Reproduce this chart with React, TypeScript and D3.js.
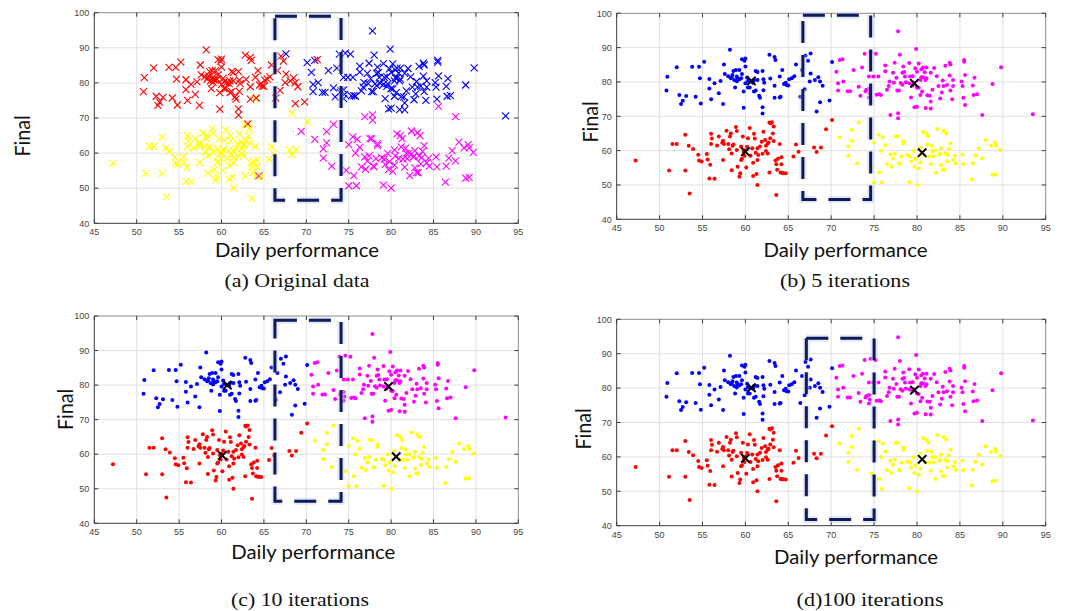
import React from 'react';
import * as d3 from 'd3';

// ---------- data ----------
const xTicks = [45, 50, 55, 60, 65, 70, 75, 80, 85, 90, 95];
const yTicks = [40, 50, 60, 70, 80, 90, 100];
const xLabel = 'Daily performance';
const yLabel = 'Final';
const captions = ['(a) Original data', '(b) 5 iterations', '(c) 10 iterations', '(d)100 iterations'];

// k-means cluster: top-left (drawn blue after clustering)
const clusterTL: [number, number][] = [
  [50.8, 77.5], [50.9, 81.5], [52.0, 84.3], [52.3, 76.2], [52.5, 73.6], [52.7, 74.5], [53.1, 75.9], [53.8, 84.4],
  [54.2, 75.7], [54.6, 84.4], [54.7, 81.1], [54.8, 73.7], [55.2, 85.9], [55.8, 80.9], [55.8, 78.1], [56.0, 75.0],
  [56.4, 79.6], [56.9, 76.7], [57.1, 80.3], [57.4, 73.6], [57.5, 85.1], [57.6, 82.3], [58.2, 89.4], [58.0, 81.7],
  [58.3, 81.1], [58.4, 81.4], [58.5, 82.0], [58.6, 83.2], [58.7, 80.6], [58.8, 78.4], [58.9, 83.5], [59.0, 81.6],
  [59.0, 80.2], [59.1, 80.9], [59.3, 83.5], [59.3, 80.8], [59.5, 81.1], [59.6, 82.3], [59.6, 86.6], [59.8, 77.2],
  [59.8, 72.5], [59.9, 86.2], [60.0, 86.8], [60.0, 84.5], [60.0, 79.6], [60.2, 81.3], [60.3, 80.3], [60.3, 78.4],
  [60.5, 78.4], [60.6, 80.1], [60.9, 79.8], [61.0, 77.2], [61.0, 80.6], [61.2, 83.2], [61.2, 77.5], [61.4, 82.9],
  [61.4, 80.6], [61.6, 76.0], [61.7, 75.4], [62.0, 83.2], [62.0, 72.6], [62.0, 70.8], [62.1, 80.8], [62.1, 77.6],
  [62.2, 79.8], [62.8, 87.9], [62.9, 81.0], [63.4, 87.3], [63.5, 86.4], [63.4, 78.9], [63.4, 75.4], [64.0, 75.5],
  [64.0, 81.6], [64.1, 75.7], [64.3, 83.5], [64.5, 79.4], [64.7, 79.8], [64.8, 79.1], [65.0, 79.0], [65.1, 80.8],
  [65.4, 81.1], [65.7, 81.7], [65.9, 85.1], [66.4, 75.7], [66.6, 83.5], [66.9, 77.9], [67.0, 87.6], [67.3, 86.2],
  [67.6, 88.3], [67.5, 80.1], [67.6, 82.5], [68.1, 80.6], [68.3, 71.4], [68.5, 81.4], [68.7, 74.1], [68.7, 80.1],
  [69.0, 78.9], [69.8, 74.6], [70.1, 85.8],
];

// k-means cluster: top-right (drawn magenta after clustering)
const clusterTR: [number, number][] = [
  [70.6, 83.0], [70.8, 79.6], [70.8, 77.5], [71.0, 86.4], [71.3, 86.6], [71.4, 80.1], [71.9, 77.3], [72.2, 77.3],
  [72.6, 83.5], [73.2, 78.6], [73.4, 76.0], [73.6, 84.2], [73.9, 88.2], [74.0, 77.3], [74.1, 77.7], [74.4, 81.6],
  [74.4, 75.5], [74.4, 78.0], [74.5, 76.7], [74.6, 88.5], [74.9, 81.6], [75.3, 76.3], [75.5, 81.6], [75.6, 76.4],
  [75.2, 88.2], [75.8, 76.2], [76.3, 84.8], [76.3, 83.1], [76.5, 77.7], [76.7, 78.8], [76.8, 80.1], [76.9, 70.4],
  [77.2, 82.7], [77.3, 79.8], [77.4, 85.6], [77.6, 81.2], [77.7, 77.5], [77.8, 69.4], [77.8, 70.9], [77.8, 94.8],
  [77.9, 77.5], [78.0, 87.9], [78.1, 79.7], [78.3, 79.2], [78.4, 84.5], [78.3, 82.7], [78.5, 82.9], [78.6, 81.6],
  [78.7, 79.9], [79.1, 85.5], [79.2, 81.6], [79.1, 79.6], [79.3, 75.5], [79.5, 81.7], [79.5, 79.0], [79.6, 79.7],
  [79.7, 72.6], [79.8, 84.0], [79.9, 89.6], [80.0, 78.4], [80.0, 72.8], [80.0, 83.0], [80.2, 78.3], [80.2, 85.4],
  [80.4, 80.6], [80.4, 76.2], [80.5, 83.7], [80.5, 81.4], [80.6, 77.2], [80.7, 84.2], [80.7, 81.4], [80.9, 82.8],
  [81.0, 72.4], [81.0, 80.6], [81.1, 81.1], [81.1, 84.2], [81.2, 76.1], [81.5, 76.0], [81.6, 72.3], [81.6, 82.7],
  [81.6, 74.3], [81.8, 77.7], [82.0, 84.1], [82.3, 81.7], [82.5, 78.8], [82.7, 75.2], [82.9, 76.9], [83.0, 80.4],
  [83.1, 78.8], [83.3, 84.7], [83.5, 79.1], [83.8, 81.9], [83.8, 85.6], [83.9, 85.1], [83.9, 77.5], [84.1, 75.0],
  [84.2, 80.6], [84.2, 78.8], [85.2, 80.1], [85.3, 78.8], [85.4, 75.4], [85.5, 86.4], [85.5, 85.9], [85.6, 73.3],
  [85.6, 82.0], [86.5, 79.0], [86.6, 76.2], [86.7, 81.2], [87.0, 76.4], [87.6, 70.4], [88.8, 79.4], [89.8, 84.3],
  [93.5, 70.6],
];

// k-means cluster: bottom-left (drawn red after clustering)
const clusterBL: [number, number][] = [
  [47.2, 57.1], [51.1, 54.2], [51.5, 61.9], [52.0, 61.9], [53.0, 64.6], [53.0, 54.2], [53.4, 61.4], [53.5, 47.5],
  [53.9, 60.5], [54.5, 58.8], [54.6, 57.1], [54.9, 56.8], [55.5, 59.0], [55.6, 57.4], [55.8, 51.9], [55.9, 55.9],
  [56.0, 64.9], [56.1, 63.5], [56.0, 61.9], [56.4, 51.8], [56.7, 61.5], [56.9, 64.1], [57.3, 62.3], [57.4, 57.3],
  [57.4, 62.9], [57.5, 61.9], [57.8, 65.8], [58.0, 61.9], [58.1, 60.4], [58.2, 64.1], [58.3, 65.0], [58.4, 59.2],
  [58.4, 54.3], [58.5, 61.4], [58.6, 61.8], [58.9, 66.9], [59.0, 65.7], [59.0, 60.2], [59.1, 55.3], [59.3, 52.4],
  [59.4, 53.4], [59.5, 61.2], [59.5, 57.3], [59.6, 57.6], [59.7, 64.1], [59.8, 59.7], [59.9, 58.5], [60.0, 60.1],
  [60.1, 55.1], [60.2, 61.1], [60.3, 63.6], [60.5, 66.6], [60.6, 58.5], [60.8, 60.7], [60.9, 56.5], [60.9, 52.6],
  [61.0, 64.9], [61.1, 63.5], [61.2, 59.4], [61.3, 53.2], [61.4, 50.0], [61.4, 57.3], [61.4, 60.7], [61.5, 58.7],
  [61.7, 61.2], [61.9, 62.6], [62.0, 59.1], [62.1, 65.5], [62.3, 63.1], [62.4, 59.9], [62.4, 61.4], [62.6, 62.1],
  [62.6, 59.2], [62.7, 62.4], [62.8, 68.2], [62.8, 53.6], [62.9, 63.6], [62.9, 68.0], [63.1, 68.3], [63.2, 65.0],
  [63.3, 67.0], [63.3, 62.8], [63.5, 57.1], [63.6, 47.1], [63.6, 56.0], [63.7, 54.4], [63.8, 57.6], [64.0, 61.9],
  [64.1, 53.6], [64.2, 58.1], [64.2, 56.0], [64.3, 53.5], [64.4, 53.5], [64.7, 53.4], [65.6, 58.3], [65.9, 61.8],
  [66.2, 59.7], [68.0, 60.9], [68.3, 59.6], [68.8, 60.9], [69.4, 66.2], [70.1, 68.9],
];

// k-means cluster: bottom-right (drawn yellow after clustering)
const clusterBR: [number, number][] = [
  [71.0, 63.9], [72.0, 61.2], [72.0, 58.6], [72.4, 62.9], [72.4, 66.1], [73.0, 56.3], [73.2, 68.2], [74.7, 55.1],
  [75.0, 62.4], [75.0, 50.7], [75.5, 64.6], [75.6, 53.6], [75.8, 60.0], [75.9, 50.7], [76.0, 63.9], [76.3, 61.6],
  [76.5, 56.1], [76.9, 58.9], [77.0, 55.4], [77.2, 57.7], [77.4, 59.2], [77.5, 64.1], [77.7, 64.1], [77.9, 56.3],
  [78.0, 56.1], [78.2, 58.4], [78.4, 62.1], [78.4, 62.7], [78.9, 58.7], [79.1, 50.9], [79.2, 58.3], [79.3, 56.8],
  [79.6, 59.9], [79.7, 55.3], [79.8, 57.6], [80.0, 50.0], [80.2, 54.8], [80.4, 60.9], [80.4, 56.6], [80.5, 59.2],
  [80.7, 65.5], [80.9, 58.5], [81.1, 65.0], [81.2, 61.8], [81.3, 64.1], [81.4, 58.3], [81.6, 56.0], [81.7, 61.4],
  [81.8, 59.9], [81.9, 58.4], [82.1, 60.0], [82.2, 53.6], [82.4, 66.3], [82.6, 58.9], [82.7, 59.1], [82.8, 55.8],
  [82.8, 60.7], [83.0, 54.5], [83.1, 65.8], [83.2, 54.4], [83.3, 59.2], [83.4, 65.0], [83.5, 56.9], [83.6, 58.7],
  [83.7, 60.5], [83.9, 62.1], [84.2, 57.3], [84.4, 58.5], [84.5, 56.3], [85.3, 58.9], [85.4, 56.1], [86.4, 51.7],
  [86.5, 56.3], [86.8, 58.6], [87.2, 60.7], [87.6, 57.8], [88.0, 63.1], [88.6, 61.5], [88.8, 52.9], [89.1, 62.4],
  [89.2, 61.5], [89.2, 53.1], [89.7, 60.2],
];

// original (true) class of each k-means cluster, and points whose true class differs
const originalClassOf = { TL: 'red', TR: 'blue', BL: 'yellow', BR: 'magenta' };
const kmeansClassOf = { TL: 'blue', TR: 'magenta', BL: 'red', BR: 'yellow' };
const originalOverrides: [number, number, string][] = [
  [67.6, 88.3, 'blue'], [70.1, 85.8, 'blue'], [71.3, 86.6, 'red'], [64.0, 75.5, 'yellow'],
  [68.3, 71.4, 'yellow'], [63.1, 68.3, 'red'], [64.4, 53.5, 'magenta'], [69.4, 66.2, 'magenta'],
  [76.9, 70.4, 'magenta'], [77.8, 70.9, 'magenta'], [77.8, 69.4, 'magenta'], [87.6, 70.4, 'magenta'],
  [85.6, 73.3, 'magenta'],
];

// centroids per panel (b, c, d)
const centroidsB: [number, number][] = [[60.7, 80.3], [79.7, 79.6], [60.0, 59.7], [80.6, 59.4]];
const centroidsC: [number, number][] = [[60.7, 80.0], [79.7, 79.6], [60.1, 59.6], [80.6, 59.3]];
const centroidsD: [number, number][] = [[60.7, 80.1], [79.7, 79.4], [60.0, 59.6], [80.6, 59.3]];

// dashed region per panel: [x0, x1, y0, y1]
const regionA = [66.3, 74.1, 46.6, 99.0];
const regionB = [66.7, 74.6, 45.8, 99.4];
const regionC = [66.3, 74.1, 46.4, 98.8];
const regionD = [67.1, 75.0, 41.8, 94.5];

// ---------- styling ----------
const COLORS: Record<string, string> = {
  red: '#ff0000', blue: '#0000ff', yellow: '#ffff00', magenta: '#ff00ff',
};

type Layout = {
  l: number; r: number; t: number; b: number;
  finalX: number; finalY: number;
  xlabX: number; xlabY: number;
  capX: number; capY: number; capW: number;
};

const layouts: Layout[] = [
  { l: 94.3, r: 518.3, t: 12.7, b: 223.3, finalX: 30, finalY: 136, xlabX: 297, xlabY: 256.5, capX: 297, capY: 287, capW: 145 },
  { l: 616.7, r: 1045.7, t: 13.3, b: 219.3, finalX: 598, finalY: 122, xlabX: 845.5, xlabY: 256.5, capX: 845, capY: 287, capW: 130 },
  { l: 94.3, r: 518.3, t: 316, b: 523.3, finalX: 73, finalY: 409.5, xlabX: 313.3, xlabY: 558.5, capX: 300, capY: 606, capW: 138 },
  { l: 616.7, r: 1045.7, t: 319.3, b: 525.7, finalX: 591, finalY: 429, xlabX: 856, xlabY: 563.5, capX: 870, capY: 606, capW: 147 },
];

const SANS = "'Liberation Sans', Arial, sans-serif";
const LABEL = "Lato, 'Open Sans', sans-serif";
const SERIF = "'Liberation Serif', 'Times New Roman', serif";

const crossPath = (cx: number, cy: number, s: number) =>
  `M${cx - s},${cy - s}L${cx + s},${cy + s}M${cx - s},${cy + s}L${cx + s},${cy - s}`;

type Pt = { x: number; y: number; color: string };

function buildPoints(mode: 'original' | 'kmeans'): Pt[] {
  const groups: [keyof typeof kmeansClassOf, [number, number][]][] = [
    ['TL', clusterTL], ['TR', clusterTR], ['BL', clusterBL], ['BR', clusterBR],
  ];
  const out: Pt[] = [];
  groups.forEach(([key, pts]) => {
    pts.forEach(([x, y]) => {
      let color = mode === 'kmeans' ? kmeansClassOf[key] : originalClassOf[key];
      if (mode === 'original') {
        const o = originalOverrides.find((d) => d[0] === x && d[1] === y);
        if (o) color = o[2];
      }
      out.push({ x, y, color });
    });
  });
  return out;
}

function Panel({ lay, mode, region, centroids, caption }: {
  lay: Layout; mode: 'original' | 'kmeans'; region: number[]; centroids: [number, number][] | null; caption: string;
}) {
  const x = d3.scaleLinear().domain([45, 95]).range([lay.l, lay.r]);
  const y = d3.scaleLinear().domain([40, 100]).range([lay.b, lay.t]);
  const pts = buildPoints(mode);
  const [rx0, rx1, ry0, ry1] = region;
  const X0 = x(rx0), X1 = x(rx1), Y0 = y(ry1), Y1 = y(ry0);
  const rectPath = `M${X0},${Y0}L${X1},${Y0}L${X1},${Y1}L${X0},${Y1}Z`;
  const tickLen = 4;
  return (
    <g>
      {/* grid */}
      {xTicks.slice(1, -1).map((t) => (
        <line key={'gx' + t} x1={x(t)} x2={x(t)} y1={lay.t} y2={lay.b} stroke="#e1e1e1" strokeWidth={1} />
      ))}
      {yTicks.slice(1, -1).map((t) => (
        <line key={'gy' + t} x1={lay.l} x2={lay.r} y1={y(t)} y2={y(t)} stroke="#e1e1e1" strokeWidth={1} />
      ))}
      {/* frame */}
      <line x1={lay.l} x2={lay.r} y1={lay.t} y2={lay.t} stroke="#8c8c8c" strokeWidth={1} />
      <line x1={lay.r} x2={lay.r} y1={lay.t} y2={lay.b} stroke="#8c8c8c" strokeWidth={1} />
      <line x1={lay.l} x2={lay.r} y1={lay.b} y2={lay.b} stroke="#3a3a3a" strokeWidth={1} />
      <line x1={lay.l} x2={lay.l} y1={lay.t} y2={lay.b} stroke="#3a3a3a" strokeWidth={1} />
      {/* ticks */}
      {xTicks.map((t) => (
        <g key={'tx' + t}>
          <line x1={x(t)} x2={x(t)} y1={lay.b} y2={lay.b - tickLen} stroke="#3a3a3a" />
          <line x1={x(t)} x2={x(t)} y1={lay.t} y2={lay.t + tickLen} stroke="#3a3a3a" />
          <text x={x(t)} y={lay.b + 12} textAnchor="middle" fontSize={9} fontFamily={SANS} fill="#454545">{t}</text>
        </g>
      ))}
      {yTicks.map((t) => (
        <g key={'ty' + t}>
          <line x1={lay.l} x2={lay.l + tickLen} y1={y(t)} y2={y(t)} stroke="#3a3a3a" />
          <line x1={lay.r} x2={lay.r - tickLen} y1={y(t)} y2={y(t)} stroke="#3a3a3a" />
          <text x={lay.l - 5} y={y(t) + 3.2} textAnchor="end" fontSize={9} fontFamily={SANS} fill="#454545">{t}</text>
        </g>
      ))}
      {/* points */}
      {pts.map((p, i) =>
        mode === 'original' ? (
          <path key={i} d={crossPath(x(p.x), y(p.y), 3.5)} stroke={COLORS[p.color]} strokeWidth={1.1} fill="none" />
        ) : (
          <circle key={i} cx={x(p.x)} cy={y(p.y)} r={2} fill={COLORS[p.color]} />
        )
      )}
      {/* centroids */}
      {centroids && centroids.map((c, i) => (
        <path key={'c' + i} d={crossPath(x(c[0]), y(c[1]), 4.2)} stroke="#000" strokeWidth={2} fill="none" />
      ))}
      {/* dashed region */}
      <path d={rectPath} fill="none" stroke="#c3cbe6" strokeOpacity={0.45} strokeWidth={7} strokeDasharray="22,12" />
      <path d={rectPath} fill="none" stroke="#0d1a5c" strokeWidth={3} strokeDasharray="22,12" />
      {/* labels */}
      <text x={lay.xlabX} y={lay.xlabY} textAnchor="middle" fontSize={18.5} fontFamily={LABEL} fill="#111" textLength={164} lengthAdjust="spacingAndGlyphs">{xLabel}</text>
      <text transform={`translate(${lay.finalX},${lay.finalY}) rotate(-90)`} textAnchor="middle" fontSize={21} fontFamily={LABEL} fill="#111" textLength={41} lengthAdjust="spacingAndGlyphs">{yLabel}</text>
      <text x={lay.capX} y={lay.capY} textAnchor="middle" fontSize={19} fontFamily={SERIF} fill="#111" textLength={lay.capW} lengthAdjust="spacingAndGlyphs">{caption}</text>
    </g>
  );
}

export default function App() {
  return (
    <svg width={1075} height={611} style={{ position: 'absolute', left: 0, top: 0, background: '#fff' }}>
      <rect x={0} y={0} width={1075} height={611} fill="#fff" />
      <Panel lay={layouts[0]} mode="original" region={regionA} centroids={null} caption={captions[0]} />
      <Panel lay={layouts[1]} mode="kmeans" region={regionB} centroids={centroidsB} caption={captions[1]} />
      <Panel lay={layouts[2]} mode="kmeans" region={regionC} centroids={centroidsC} caption={captions[2]} />
      <Panel lay={layouts[3]} mode="kmeans" region={regionD} centroids={centroidsD} caption={captions[3]} />
    </svg>
  );
}
